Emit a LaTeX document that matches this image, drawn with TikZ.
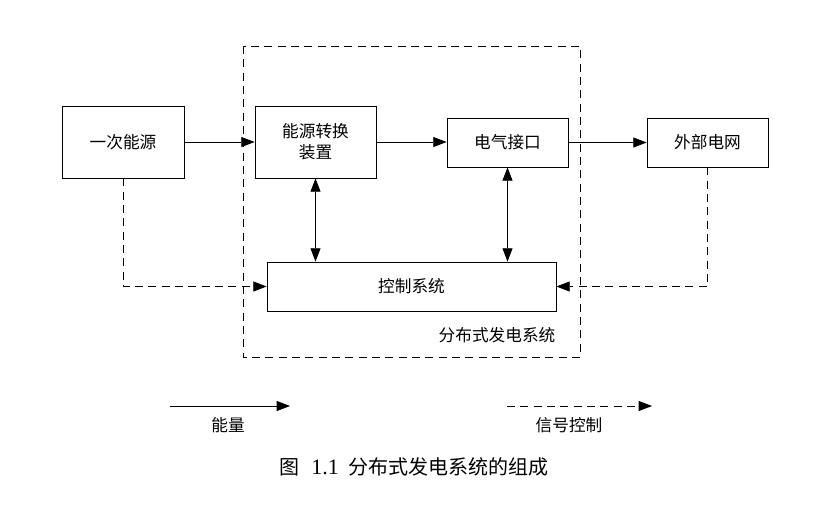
\documentclass[tikz,border=0pt]{standalone}
\usepackage{fontspec}
\newfontfamily\cjk{Noto Sans CJK SC}
\newfontfamily\numfont{Liberation Serif}
\usetikzlibrary{arrows.meta,calc}
\tikzset{
  blk/.style={draw, line width=0.6pt, inner sep=0pt, font=\cjk\fontsize{12.5}{16}\selectfont, align=center},
  txt/.style={inner sep=0pt, font=\cjk\fontsize{12.5}{16}\selectfont},
  flow/.style={line width=0.6pt, -{Triangle[length=10pt,width=7.5pt]}},
  flowboth/.style={line width=0.6pt, {Triangle[length=10pt,width=7.5pt]}-{Triangle[length=10pt,width=7.5pt]}},
  sig/.style={line width=0.6pt, dash pattern=on 6pt off 4pt, -{Triangle[length=10pt,width=7.5pt]}},
}
\begin{document}
\begin{tikzpicture}[x=0.75pt, y=-0.75pt]
	\useasboundingbox (0,0) rectangle (816,507);
	% Marco del sistema
	\draw[line width=0.6pt, dash pattern=on 6pt off 4pt] (243,46) rectangle (580,357);
	\node[txt] (lblsys) at (497,335) {分布式发电系统};
	
	% Bloques
	\node[blk, minimum width=91.5pt, minimum height=54pt] (src) at (123,142) {一次能源};
	\node[blk, minimum width=90.75pt, minimum height=54pt] (conv) at (315.5,142) {能源转换\\装置};
	\node[blk, minimum width=90.75pt, minimum height=36.75pt] (iface) at (507.5,142.5) {电气接口};
	\node[blk, minimum width=90.75pt, minimum height=36.75pt] (grid) at (707.5,142.5) {外部电网};
	\node[blk, minimum width=216.75pt, minimum height=36.75pt] (ctrl) at (411.5,286.5) {控制系统};
	
	% Flujo de energía
	\draw[flow] (src.east) -- (src.east -| conv.west);
	\draw[flow] (conv.east) -- (conv.east -| iface.west);
	\draw[flow] (iface.east) -- (iface.east -| grid.west);
	\draw[flowboth] (conv.south) -- (conv.south |- ctrl.north);
	\draw[flowboth] (iface.south) -- (iface.south |- ctrl.north);
	
	% Señales
	\draw[sig] (src.south) |- (ctrl.west);
	\draw[sig] (grid.south) |- (ctrl.east);
	
	% Leyenda
	\coordinate (e1) at (170,406);
	\coordinate (e2) at (290,406);
	\draw[flow] (e1) -- (e2);
	\node[txt] (lble) at (228,425) {能量};
	\coordinate (s1) at (507,406);
	\coordinate (s2) at (652,406);
	\draw[sig] (s1) -- (s2);
	\node[txt] (lbls) at (569,425) {信号控制};
	
	\node[txt, font=\cjk\fontsize{15}{18}\selectfont] (cap) at (414,467) {图\hspace{0.6em}{\numfont\fontsize{16.5}{18}\selectfont 1.1}\hspace{0.5em}分布式发电系统的组成};
\end{tikzpicture}
\end{document}
